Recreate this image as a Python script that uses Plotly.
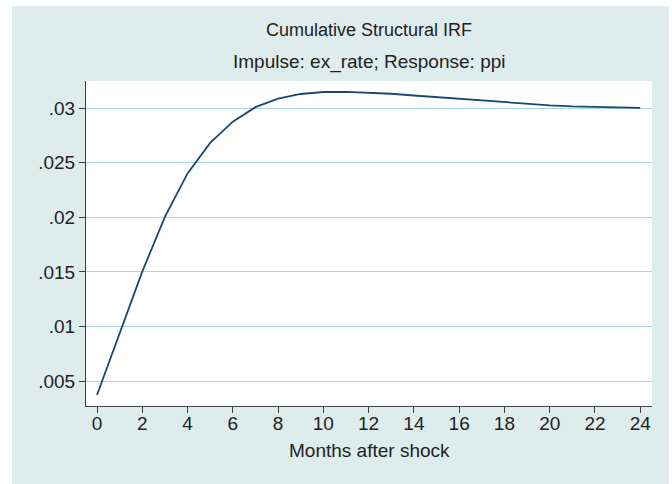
import plotly.graph_objects as go

months = list(range(0, 25))
irf = [0.00372, 0.0093, 0.01503, 0.02005, 0.02403, 0.02683, 0.02877, 0.0301,
       0.03088, 0.03131, 0.03149, 0.0315, 0.03143, 0.03133, 0.03117, 0.03102,
       0.03087, 0.03071, 0.03055, 0.0304, 0.03027, 0.03017, 0.0301, 0.03006, 0.03003]
ytick_vals = [0.005, 0.01, 0.015, 0.02, 0.025, 0.03]
ytick_text = [".005", ".01", ".015", ".02", ".025", ".03"]
xtick_vals = list(range(0, 25, 2))
title = "Cumulative Structural IRF"
subtitle = "Impulse: ex_rate; Response: ppi"
xlabel = "Months after shock"

W, H = 672, 484
L, R, T, B = 86, 20, 81, 78
pw, ph = W - L - R, H - T - B

def px_x(p):
    return (p - L) / pw

def px_y(p):
    return (H - B - p) / ph

FONT = "Liberation Sans, Arial, Helvetica, sans-serif"
BG = "#DFECEC"
GRID = "#A6D8E3"
AX = "#404040"
TXT = "#222222"

fig = go.Figure()
fig.add_trace(go.Scatter(x=months, y=irf, mode="lines",
                         line=dict(color="#1A476F", width=1.8),
                         showlegend=False, hoverinfo="skip"))

fig.update_layout(
    width=W, height=H,
    margin=dict(l=L, r=R, t=T, b=B, pad=0),
    paper_bgcolor="white", plot_bgcolor="white",
    font=dict(family=FONT, size=18, color=TXT),
    shapes=[
        dict(type="rect", xref="paper", yref="paper", layer="below",
             x0=px_x(12), x1=px_x(669), y0=px_y(495), y1=px_y(6),
             fillcolor=BG, line=dict(width=0)),
        dict(type="rect", xref="paper", yref="paper", layer="below",
             x0=0, x1=1, y0=0, y1=1,
             fillcolor="white", line=dict(width=0)),
    ],
    annotations=[
        dict(text=title, xref="paper", yref="paper", x=0.5, y=px_y(30),
             xanchor="center", yanchor="middle", showarrow=False,
             font=dict(size=18, color=TXT)),
        dict(text=subtitle, xref="paper", yref="paper", x=0.5, y=px_y(62),
             xanchor="center", yanchor="middle", showarrow=False,
             font=dict(size=19, color=TXT)),
        dict(text=xlabel, xref="paper", yref="paper", x=0.5, y=px_y(450),
             xanchor="center", yanchor="middle", showarrow=False,
             font=dict(size=19, color=TXT)),
    ],
)

fig.update_xaxes(range=[-0.486, 24.52], tickmode="array", tickvals=xtick_vals,
                 ticks="outside", ticklen=6, tickwidth=1, tickcolor=AX,
                 showline=True, linecolor=AX, linewidth=1,
                 showgrid=False, zeroline=False, ticklabelstandoff=-6,
                 tickfont=dict(size=19, color=TXT))
fig.update_yaxes(range=[0.00271, 0.0325], tickmode="array", tickvals=ytick_vals,
                 ticktext=ytick_text,
                 ticks="outside", ticklen=6, tickwidth=1, tickcolor=AX,
                 showline=True, linecolor=AX, linewidth=1,
                 showgrid=True, gridcolor=GRID, gridwidth=1.3, zeroline=False,
                 tickfont=dict(size=19, color=TXT))

fig.write_html("out.html", config={"displayModeBar": False},
               post_script="document.body.style.margin='0';document.body.style.overflow='hidden';")
